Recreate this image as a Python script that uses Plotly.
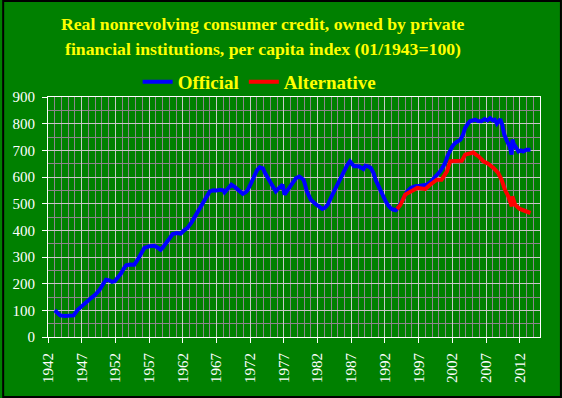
import plotly.graph_objects as go

official_year = [1943.0, 1943.4, 1943.8, 1944.5, 1945.2, 1945.8, 1946.4, 1947.2, 1947.8, 1948.4,
                 1949.0, 1949.6, 1950.1, 1950.6, 1951.1, 1951.5, 1951.9, 1952.4, 1952.8, 1953.2,
                 1953.6, 1954.2, 1954.8, 1955.3, 1955.8, 1956.3, 1957.0, 1957.8, 1958.3, 1958.7,
                 1959.1, 1959.5, 1960.0, 1960.5, 1961.1, 1961.7, 1962.2, 1962.7, 1963.3, 1963.9,
                 1964.3, 1964.7, 1965.3, 1966.0, 1966.5, 1967.0, 1967.5, 1968.0, 1968.2, 1968.7,
                 1969.2, 1969.7, 1970.2, 1970.9, 1971.3, 1971.6, 1972.1, 1972.6, 1973.0, 1973.4,
                 1973.9, 1974.2, 1974.6, 1975.0, 1975.3, 1975.8, 1976.3, 1976.8, 1976.9, 1977.1,
                 1977.4, 1977.8, 1978.3, 1978.8, 1979.3, 1979.9, 1980.1, 1980.4, 1981.0, 1981.4,
                 1981.8, 1982.2, 1982.7, 1983.1, 1983.5, 1984.2, 1984.9, 1985.4, 1985.9, 1986.4,
                 1986.8, 1987.1, 1987.4, 1988.1, 1988.5, 1988.8, 1989.1, 1989.5, 1989.9, 1990.3,
                 1990.6, 1991.0, 1991.3, 1991.7, 1992.1, 1992.5, 1992.8, 1993.2, 1993.6, 1994.0,
                 1994.4, 1994.8, 1995.3, 1995.8, 1996.5, 1997.2, 1997.7, 1998.2, 1998.7, 1999.2,
                 1999.7, 2000.2, 2000.6, 2000.9, 2001.3, 2001.7, 2002.0, 2002.4, 2002.8, 2003.2,
                 2003.6, 2003.9, 2004.3, 2004.6, 2005.0, 2005.4, 2005.8, 2006.3, 2006.8, 2007.2,
                 2007.6, 2008.0, 2008.3, 2008.6, 2008.9, 2009.1, 2009.4, 2009.7, 2010.1, 2010.5,
                 2010.8, 2010.9, 2011.1, 2011.3, 2011.8, 2012.2, 2012.5, 2013.0, 2013.6]
official_value = [100, 88, 81, 79, 79, 81, 102, 121, 133, 146,
                  158, 175, 195, 215, 212, 207, 209, 222, 237, 255,
                  269, 272, 271, 290, 315, 334, 340, 342, 335, 327,
                  338, 352, 372, 386, 390, 388, 400, 409, 430, 455,
                  475, 490, 518, 546, 550, 549, 552, 550, 542, 558,
                  571, 563, 552, 537, 542, 550, 575, 602, 625, 636,
                  632, 615, 596, 578, 565, 546, 559, 571, 560, 534,
                  545, 559, 578, 596, 602, 590, 575, 546, 515, 503,
                  496, 490, 480, 485, 496, 534, 571, 596, 621, 645,
                  659, 650, 640, 640, 636, 630, 642, 640, 634, 615,
                  590, 568, 546, 527, 509, 493, 484, 478, 475, 487,
                  505, 527, 546, 559, 565, 567, 568, 571, 580, 592,
                  605, 621, 638, 652, 680, 702, 715, 727, 732, 740,
                  760, 784, 800, 809, 812, 815, 810, 809, 817, 812,
                  821, 812, 815, 800, 810, 817, 796, 759, 734, 715,
                  684, 740, 725, 715, 696, 700, 696, 702, 702]

alt_year = [1993.8, 1994.3, 1995.0, 1995.8, 1996.3, 1996.8, 1997.4, 1998.0, 1998.7, 1999.2,
            1999.7, 2000.4, 2000.8, 2001.2, 2001.5, 2001.7, 2002.2, 2002.7, 2003.4, 2003.9,
            2004.4, 2005.1, 2005.5, 2005.9, 2006.6, 2007.3, 2008.1, 2008.5, 2008.8, 2009.3,
            2009.8, 2010.3, 2010.8, 2010.9, 2011.1, 2011.3, 2012.0, 2012.8, 2013.6]
alt_value = [480, 496, 534, 546, 555, 559, 557, 555, 571, 580,
             590, 590, 605, 621, 645, 659, 660, 659, 661, 684,
             686, 692, 684, 677, 659, 650, 634, 625, 615, 590,
             552, 527, 490, 527, 505, 496, 480, 471, 465]

x_ticks = list(range(1942, 2013, 5))
y_ticks = list(range(0, 901, 100))

title_lines = ["Real nonrevolving consumer credit, owned by private",
               "financial institutions, per capita index (01/1943=100)"]

SERIF = "Liberation Serif, Times New Roman, serif"
GREEN = "#008000"
YELLOW = "#ffff00"
MAJOR_GRID = "#c8c8c8"
MINOR_GRID = "#8c868c"

fig = go.Figure()
fig.add_trace(go.Scatter(x=official_year, y=official_value, mode="lines", name="Official",
                         line=dict(color="#0000ff", width=4)))
fig.add_trace(go.Scatter(x=alt_year, y=alt_value, mode="lines", name="Alternative",
                         line=dict(color="#ff0000", width=4)))

L, R, T, B = 46, 22, 97, 61
PW, PH = 562 - L - R, 398 - T - B

def px_x(p):
    return (p - L) / PW

def px_y(p):
    return (398 - B - p) / PH

fig.update_layout(
    width=562, height=398,
    margin=dict(l=L, r=R, t=T, b=B, pad=0),
    paper_bgcolor=GREEN, plot_bgcolor=GREEN,
    showlegend=True,
    legend=dict(orientation="h", x=px_x(136), xanchor="left", y=px_y(63), yanchor="top",
                font=dict(family=SERIF, size=19, color=YELLOW, weight="bold"),
                bgcolor="rgba(0,0,0,0)", itemwidth=30, tracegroupgap=0),
    xaxis=dict(range=[1942, 2015], tickvals=x_ticks, ticktext=[str(v) for v in x_ticks],
               tickangle=-90, ticks="outside", ticklen=5, tickcolor="white",
               ticklabelstandoff=4,
               tickfont=dict(family=SERIF, size=15, color="white"),
               showline=True, linecolor="white", linewidth=1, mirror=True,
               showgrid=True, gridcolor=MAJOR_GRID, gridwidth=1, zeroline=False,
               minor=dict(dtick=1, tick0=1942, showgrid=True, gridcolor=MINOR_GRID, gridwidth=1, ticks="")),
    yaxis=dict(range=[0, 900], tickvals=y_ticks, ticks="outside", ticklen=5, tickcolor="white",
               ticklabelstandoff=4,
               tickfont=dict(family=SERIF, size=15, color="white"),
               showline=True, linecolor="white", linewidth=1, mirror=True,
               showgrid=True, gridcolor=MAJOR_GRID, gridwidth=1, zeroline=False,
               minor=dict(dtick=50, tick0=0, showgrid=True, gridcolor=MINOR_GRID, gridwidth=1, ticks="")),
)

for i, line in enumerate(title_lines):
    fig.add_annotation(text=line, xref="paper", yref="paper", x=px_x(262), y=px_y(24 + 25 * i),
                       xanchor="center", yanchor="middle", showarrow=False,
                       font=dict(family=SERIF, size=17.7, color=YELLOW, weight="bold"))

fig.add_shape(type="rect", xref="paper", yref="paper",
              x0=px_x(1), x1=px_x(561), y0=px_y(397), y1=px_y(1),
              line=dict(color="black", width=2), fillcolor="rgba(0,0,0,0)", layer="above")

fig.write_html("out.html", config={"displayModeBar": False},
               post_script="document.body.style.margin='0';document.body.style.overflow='hidden';")
